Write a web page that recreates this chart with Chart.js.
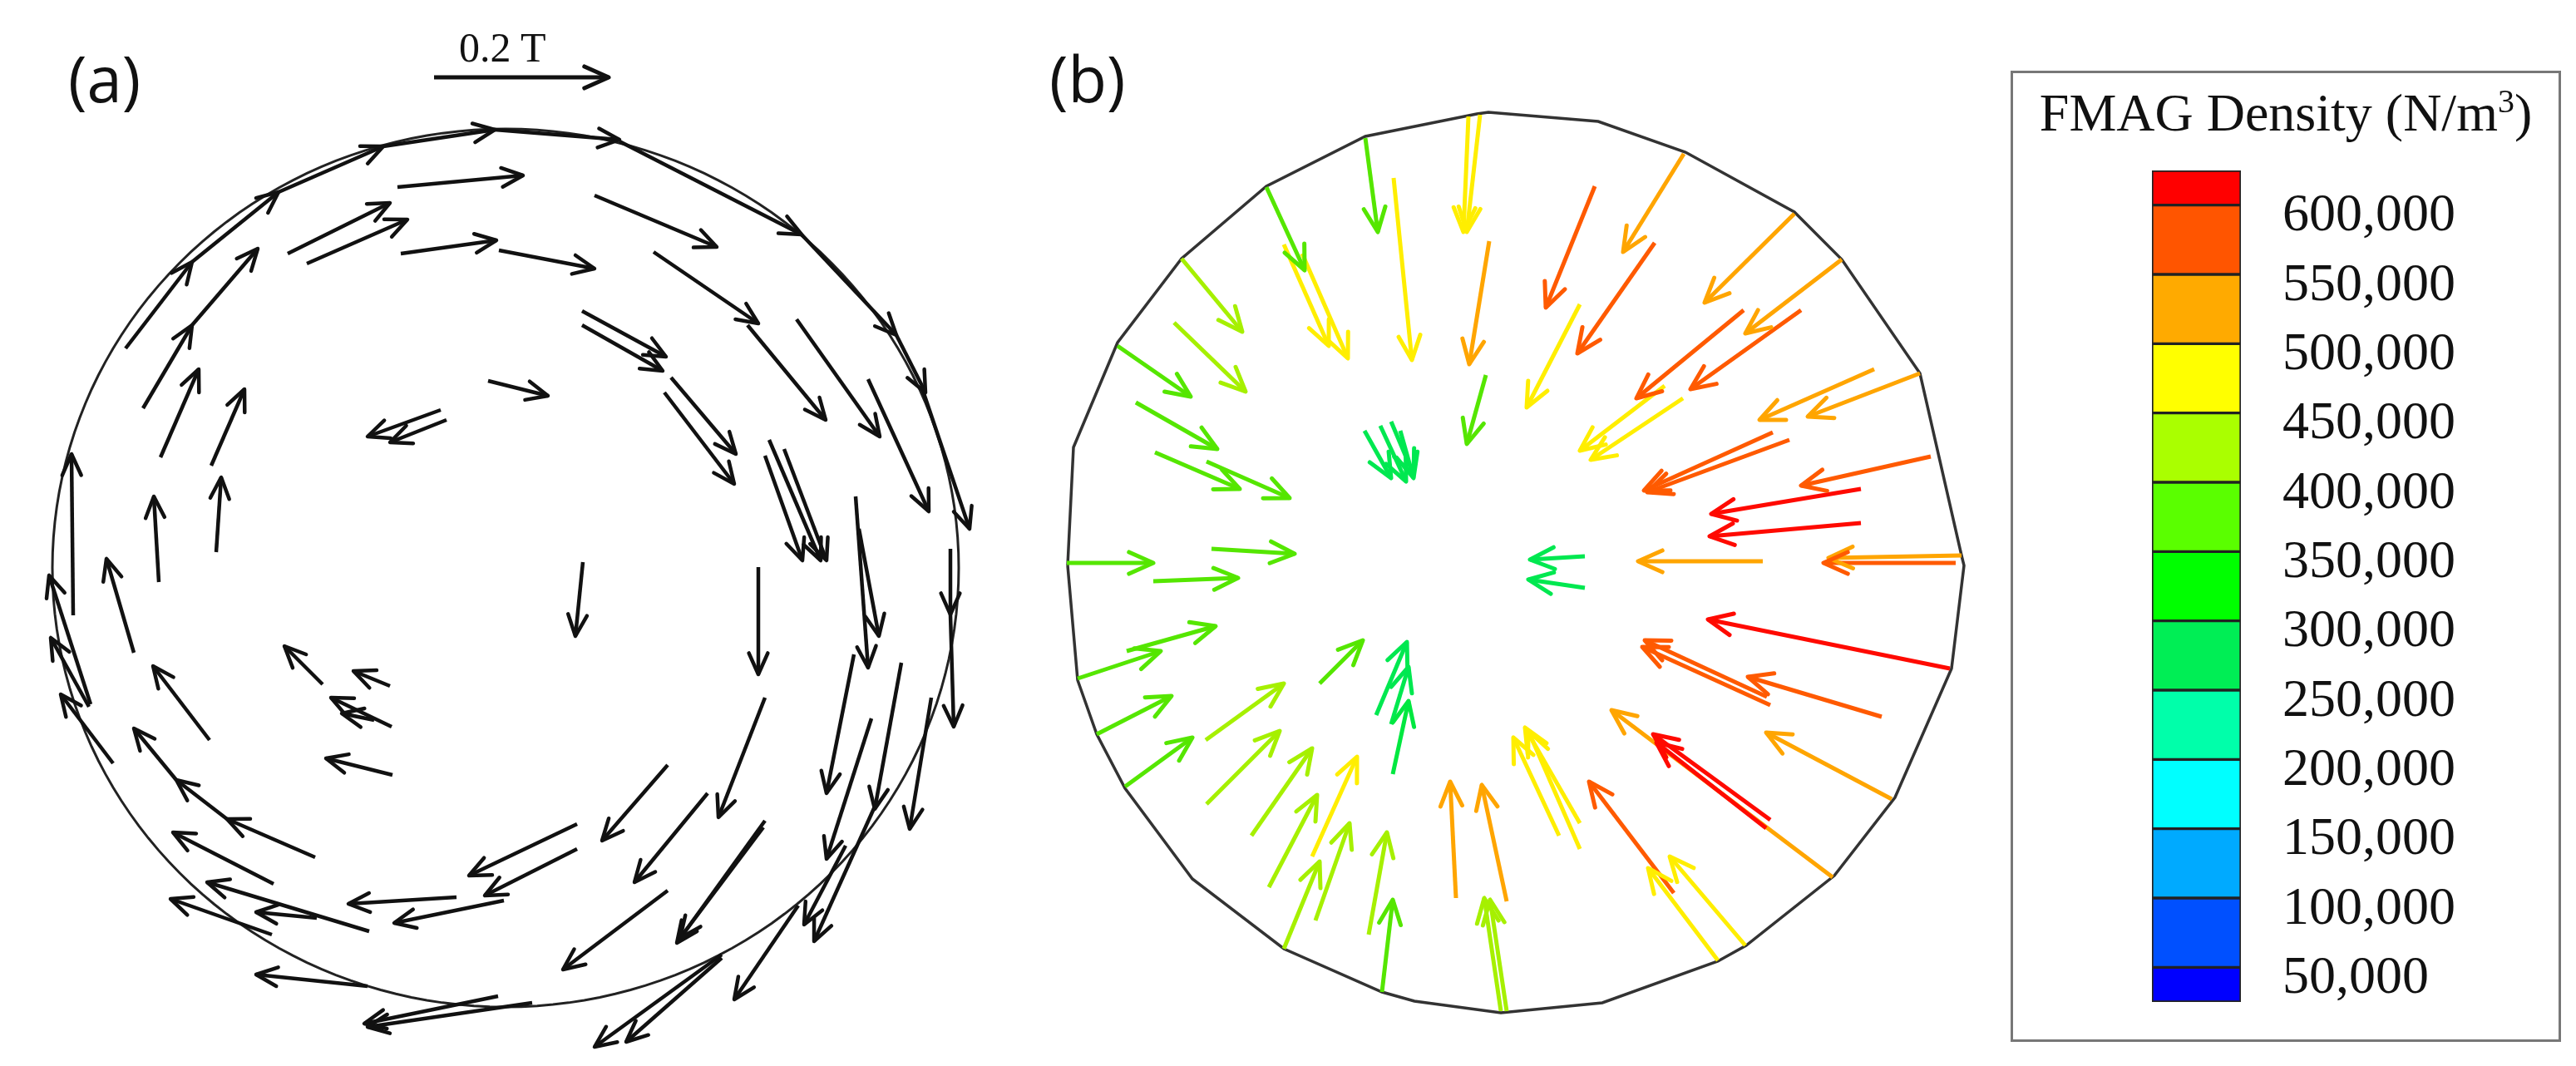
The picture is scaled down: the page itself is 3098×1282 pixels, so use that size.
<!DOCTYPE html>
<html><head><meta charset="utf-8">
<script src="https://cdn.jsdelivr.net/npm/chart.js@4.4.1/dist/chart.umd.min.js"></script>
<style>
html,body{margin:0;padding:0;background:#fff;width:3098px;height:1282px;overflow:hidden;position:relative}
#main{position:absolute;left:0;top:0}
#cbwrap{position:absolute;left:2588px;top:205px;width:600px;height:1000px}
.lbl{position:absolute;font-family:"Open Sans",sans-serif;font-size:76px;color:#111;line-height:1}
#box{position:absolute;left:2418px;top:85px;width:662px;height:1168px;border:3px solid #777;box-sizing:border-box}
#title{position:absolute;left:2418px;top:98px;width:662px;text-align:center;font-family:"Liberation Serif",serif;font-size:64px;color:#111;white-space:nowrap}
#ref{position:absolute;left:552px;top:28px;font-family:"Liberation Serif",serif;font-size:50px;color:#111}
</style></head><body>
<canvas id="main" width="3098" height="1282"></canvas>
<div id="box"></div>
<div id="title">FMAG Density (N/m<sup style="font-size:40px">3</sup>)</div>
<div id="cbwrap"><canvas id="cb" width="600" height="1000"></canvas></div>
<div class="lbl" style="left:82px;top:56px">(a)</div>
<div class="lbl" style="left:1262px;top:56px">(b)</div>
<div id="ref">0.2 T</div>
<script>
// ---- Data (figure units) ----
// Panel (a): magnetic flux density vectors [x0,y0,x1,y1]
const arrowsA = [
[151,419,231,315],[231,315,335,231],[335,231,461,176],[461,176,595,156],[595,156,745,168],[745,170,964,282],[964,282,1078,403],[1078,403,1113,472],[1110,470,1166,636],[1044,456,1117,615],
[478,225,629,211],[346,305,469,244],[369,317,490,264],[482,305,597,289],[600,301,715,323],[715,235,862,297],[786,303,912,389],[899,391,993,505],[958,384,1058,525],[700,374,801,429],[700,391,797,446],[807,454,885,546],[799,472,883,582],[587,458,659,476],[925,529,987,674],[920,548,965,674],[943,540,994,674],[1029,597,1044,803],[1033,636,1057,765],
[172,491,231,391],[231,391,310,299],[193,550,239,444],[254,560,294,468],[260,664,266,574],[191,700,185,597],[88,740,86,546],
[109,847,59,692],[107,850,61,767],[136,918,73,835],[161,785,128,672],[252,890,184,801],[379,1031,273,985],[273,985,212,938],[212,938,161,876],[329,1063,208,1001],[444,1120,249,1061],[381,1104,308,1097],[599,1198,438,1231],[640,1206,442,1235],[442,1186,308,1172],[327,1124,205,1081],[549,1079,419,1087],[606,1083,474,1110],[694,991,564,1053],[694,1021,583,1077],
[530,493,442,525],[537,505,469,532],[388,823,342,777],[469,825,425,807],[471,874,398,839],[450,866,411,858],[472,932,392,912],[701,676,692,765],
[912,682,912,811],[920,839,864,983],[803,920,724,1011],[851,954,763,1061],[803,1071,677,1166],[920,987,814,1134],[918,995,818,1128],[1027,787,994,954],[1048,864,994,1033],[1084,797,1052,973],[1143,660,1143,739],[1143,739,1147,874],[1120,839,1094,997],[1052,970,979,1132],[1017,1017,967,1112],[960,1089,883,1202],[868,1148,715,1259],[868,1152,753,1253]
];
const refArrow = [522,93,732,93];
const circleA = {cx:608, cy:683, rx:545, ry:528};

// Panel (b): force density vectors [x0,y0,x1,y1,density N/m^3]
const arrowsB = [
[1642,166,1657,279,380000],[1676,214,1698,433,480000],[1766,140,1760,279,480000],[1780,138,1764,279,480000],[1791,290,1767,438,530000],[1787,451,1764,534,380000],
[1523,225,1569,325,380000],[1544,294,1598,416,480000],[1566,305,1621,431,480000],[1421,311,1494,399,430000],[1412,388,1498,471,430000],[1344,416,1432,477,380000],
[1366,484,1464,540,380000],[1389,544,1491,588,380000],[1451,555,1551,599,380000],[1283,677,1387,677,380000],[1457,660,1557,666,380000],[1387,699,1489,695,380000],
[1641,518,1673,575,280000],[1660,512,1691,579,280000],[1673,507,1700,571,280000],[1684,518,1700,575,280000],
[1918,224,1859,370,580000],[2025,185,1952,303,530000],[1990,292,1897,425,580000],[1900,366,1836,490,480000],[2158,257,2050,364,530000],[2215,312,2099,401,530000],
[2097,373,1968,479,580000],[2166,373,2033,468,580000],[2002,464,1900,542,480000],[2024,479,1913,553,480000],[2254,444,2116,505,530000],[2309,449,2174,501,530000],
[2132,520,1977,590,580000],[2152,529,1981,592,580000],[2322,549,2166,584,580000],[2238,588,2058,618,610000],[2238,629,2056,645,610000],[2120,675,1970,675,530000],
[2359,668,2199,671,530000],[2352,677,2193,677,580000],[1906,669,1840,673,280000],[1906,707,1838,697,280000],
[2345,804,2054,745,610000],[2129,848,1975,778,580000],[2125,838,1978,770,580000],[2263,862,2102,814,580000],[2275,961,2124,881,530000],[2129,986,1988,883,610000],[2124,996,1992,893,610000],
[2204,1055,1938,854,530000],[1900,990,1834,875,480000],[1875,1005,1820,887,480000],[1900,1021,1838,879,480000],[2013,1074,1911,940,580000],[2066,1155,1982,1044,480000],[2099,1137,2008,1030,480000],
[1355,783,1462,753,380000],[1296,816,1396,783,380000],[1319,883,1409,837,380000],[1353,946,1434,887,380000],[1450,890,1544,822,430000],[1451,967,1539,879,430000],
[1505,1005,1578,900,430000],[1526,1067,1584,956,430000],[1578,1030,1632,910,480000],[1544,1141,1587,1036,430000],[1582,1107,1623,990,430000],[1646,1124,1668,1001,430000],
[1662,1193,1675,1082,380000],[1587,822,1639,770,380000],[1655,860,1692,772,280000],[1673,871,1694,802,280000],[1675,931,1694,843,310000],
[1751,1080,1744,940,530000],[1812,1084,1782,944,530000],[1805,1216,1785,1080,430000],[1812,1216,1792,1082,430000]
];
const outlineBx = [1284,1291,1344,1421,1523,1642,1776,1790,1922,2027,2158,2215,2309,2359,2362,2347,2279,2206,2100,2066,1927,1805,1701,1662,1544,1434,1353,1319,1296,1284];
const outlineBy = [680,538,412,311,224,164,137,135,146,183,255,312,449,668,680,804,959,1053,1137,1156,1206,1218,1204,1193,1141,1057,948,883,818,680];

// Colour bar
const bandLo = [25000,50000,100000,150000,200000,250000,300000,350000,400000,450000,500000,550000,600000];
const bandHi = [50000,100000,150000,200000,250000,300000,350000,400000,450000,500000,550000,600000,625000];
const bandColors = ['#0000ff','#0050ff','#00aaff','#00ffff','#00ffaa','#00ee55','#00ff00','#5aff00','#aaff00','#ffff00','#ffaa00','#ff5500','#ff0000'];
const cbTicks = [600000,550000,500000,450000,400000,350000,300000,250000,200000,150000,100000,50000];
const arrowColors = {280000:'#00e850',310000:'#00e840',380000:'#55e600',430000:'#a6f000',480000:'#ffee00',530000:'#ffa500',580000:'#ff5a00',610000:'#ff0a00'};

function colorFor(v){ if(arrowColors[v]) return arrowColors[v]; for(let i=0;i<bandLo.length;i++) if(v>=bandLo[i]&&v<bandHi[i]) return bandColors[i]; return '#000'; }

const datasets = [];
function addArrow(a,color,w,head){
  datasets.push({data:[{x:a[0],y:a[1]},{x:a[2],y:a[3]}],borderColor:color,borderWidth:w,pointRadius:0,showLine:true,arrowHead:head,fill:false});
}
arrowsA.forEach(a=>addArrow(a,'#111',4.5,28));
addArrow(refArrow,'#111',5,32);
arrowsB.forEach(a=>addArrow(a,colorFor(a[4]),5,32));
const ell=[]; for(let i=0;i<=180;i++){const t=i/180*2*Math.PI; ell.push({x:circleA.cx+circleA.rx*Math.cos(t),y:circleA.cy+circleA.ry*Math.sin(t)});}
datasets.push({data:ell,borderColor:'#222',borderWidth:3,pointRadius:0,showLine:true,tension:0});
datasets.push({data:outlineBx.map((x,i)=>({x:x,y:outlineBy[i]})),borderColor:'#333',borderWidth:3.5,pointRadius:0,showLine:true,tension:0});

const headPlugin = {id:'heads',afterDatasetsDraw(chart){
  const ctx=chart.ctx, xs=chart.scales.x, ys=chart.scales.y;
  chart.data.datasets.forEach(ds=>{
    if(!ds.arrowHead) return;
    const p0=ds.data[0],p1=ds.data[1];
    const x0=xs.getPixelForValue(p0.x),y0=ys.getPixelForValue(p0.y),x1=xs.getPixelForValue(p1.x),y1=ys.getPixelForValue(p1.y);
    const ang=Math.atan2(y1-y0,x1-x0), L=ds.arrowHead, h=0.42;
    ctx.save(); ctx.strokeStyle=ds.borderColor; ctx.lineWidth=ds.borderWidth; ctx.lineCap='round'; ctx.lineJoin='round';
    ctx.beginPath();
    ctx.moveTo(x1-L*Math.cos(ang-h),y1-L*Math.sin(ang-h)); ctx.lineTo(x1,y1);
    ctx.lineTo(x1-L*Math.cos(ang+h),y1-L*Math.sin(ang+h)); ctx.stroke(); ctx.restore();
  });
}};

new Chart(document.getElementById('main'),{type:'scatter',data:{datasets},
  options:{responsive:false,animation:false,devicePixelRatio:1,layout:{padding:0},
    plugins:{legend:{display:false},tooltip:{enabled:false}},
    scales:{x:{type:'linear',min:0,max:3098,display:false},y:{type:'linear',min:0,max:1282,reverse:true,display:false}}},
  plugins:[headPlugin]});

const cbLabelPlugin={id:'cbl',afterDraw(chart){
  const ctx=chart.ctx, ys=chart.scales.y, r=chart.chartArea.right;
  ctx.save(); ctx.fillStyle='#111'; ctx.font='64px "Liberation Serif", serif'; ctx.textBaseline='middle'; ctx.textAlign='left';
  cbTicks.forEach(v=>ctx.fillText(v.toLocaleString('en-US'), r+50, ys.getPixelForValue(v)+14));
  ctx.restore();
}};
new Chart(document.getElementById('cb'),{type:'bar',
  data:{labels:['d'],datasets:bandLo.map((lo,i)=>({data:[[lo,bandHi[i]]],backgroundColor:bandColors[i],borderColor:'#222',borderWidth:2,borderSkipped:false,grouped:false,barPercentage:1,categoryPercentage:1}))},
  options:{responsive:false,animation:false,devicePixelRatio:1,layout:{padding:{left:0,right:493,top:0,bottom:0}},
    plugins:{legend:{display:false},tooltip:{enabled:false}},
    scales:{x:{display:false},y:{display:false,min:25000,max:625000}}},
  plugins:[cbLabelPlugin]});
</script></body></html>
